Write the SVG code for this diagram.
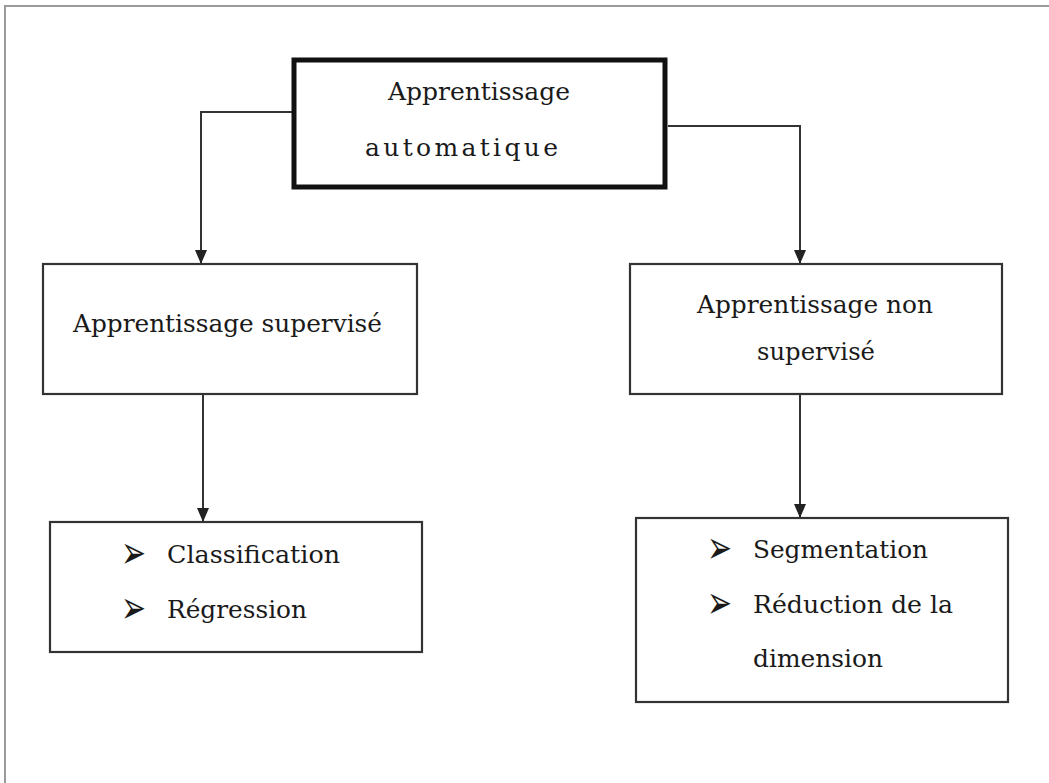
<svg xmlns="http://www.w3.org/2000/svg" width="1049" height="783" viewBox="0 0 1049 783">
  <defs>
    <marker id="arrow" viewBox="0 0 14 14" refX="14" refY="7" markerWidth="14" markerHeight="14" markerUnits="userSpaceOnUse" orient="auto">
      <path d="M0,1 L14,7 L0,13 Z" fill="#222"/>
    </marker>
    <style>
      .frame { stroke: #9a9a9a; stroke-width: 2; fill: none; }
      .box { fill: #fff; stroke: #333; stroke-width: 2.2; }
      .main { fill: #fff; stroke: #111; stroke-width: 5; }
      .link { fill: none; stroke: #333; stroke-width: 2; marker-end: url(#arrow); }
      .lbl { font-family: "DejaVu Serif", "Liberation Serif", serif; font-size: 25px; fill: #1a1a1a; }
      .bul { font-family: "DejaVu Sans", sans-serif; font-size: 26px; fill: #1a1a1a; }
    </style>
  </defs>

  <rect width="1049" height="783" fill="#fff"/>
  <!-- page frame -->
  <path class="frame" d="M5,783 V6 H1049"/>

  <!-- connectors -->
  <g id="connectors">
    <path class="link" d="M292,112 H201 V264"/>
    <path class="link" d="M668,126 H800 V264"/>
    <path class="link" d="M203,394 V522"/>
    <path class="link" d="M800,394 V518"/>
  </g>

  <g id="node-root">
    <rect class="main" x="294" y="60" width="371" height="127"/>
    <text class="lbl" x="388" y="100" textLength="182" lengthAdjust="spacing">Apprentissage</text>
    <text class="lbl" x="365" y="156" textLength="193" lengthAdjust="spacing">automatique</text>
  </g>

  <g id="node-supervise">
    <rect class="box" x="43" y="264" width="374" height="130"/>
    <text class="lbl" x="73" y="332" textLength="309" lengthAdjust="spacingAndGlyphs">Apprentissage supervisé</text>
  </g>

  <g id="node-non-supervise">
    <rect class="box" x="630" y="264" width="372" height="130"/>
    <text class="lbl" x="697" y="313" textLength="236" lengthAdjust="spacingAndGlyphs">Apprentissage non</text>
    <text class="lbl" x="757" y="360" textLength="118" lengthAdjust="spacingAndGlyphs">supervisé</text>
  </g>

  <!-- bullets are stretched to the tall arrowhead shape -->
  <g id="node-supervise-tasks">
    <rect class="box" x="50" y="522" width="372" height="130"/>
    <text class="bul" transform="translate(121,568) scale(1.15,1.75)">➢</text>
    <text class="lbl" x="167" y="563" textLength="173" lengthAdjust="spacingAndGlyphs">Classification</text>
    <text class="bul" transform="translate(121,623) scale(1.15,1.75)">➢</text>
    <text class="lbl" x="167" y="618" textLength="140" lengthAdjust="spacingAndGlyphs">Régression</text>
  </g>

  <g id="node-non-supervise-tasks">
    <rect class="box" x="636" y="518" width="372" height="184"/>
    <text class="bul" transform="translate(707,563) scale(1.15,1.75)">➢</text>
    <text class="lbl" x="753" y="558" textLength="175" lengthAdjust="spacingAndGlyphs">Segmentation</text>
    <text class="bul" transform="translate(707,618) scale(1.15,1.75)">➢</text>
    <text class="lbl" x="753" y="613" textLength="200" lengthAdjust="spacingAndGlyphs">Réduction de la</text>
    <text class="lbl" x="753" y="667" textLength="130" lengthAdjust="spacingAndGlyphs">dimension</text>
  </g>
</svg>
